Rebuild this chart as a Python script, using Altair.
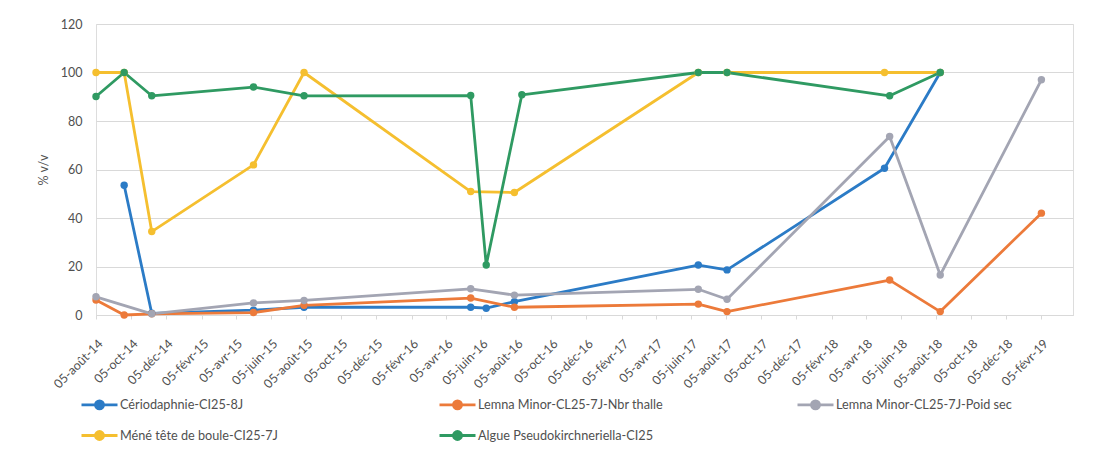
import altair as alt
import pandas as pd

series_names = [
    "Cériodaphnie-CI25-8J",
    "Lemna Minor-CL25-7J-Nbr thalle",
    "Lemna Minor-CL25-7J-Poid sec",
    "Méné tête de boule-CI25-7J",
    "Algue Pseudokirchneriella-CI25",
]
series_colors = ["#2b7bc6", "#ec7a3a", "#a3a5b3", "#f5bf2f", "#2f9a62"]

cerio_dates = ["2014-09-23", "2014-11-10", "2015-05-06", "2015-08-02", "2016-05-18",
               "2016-06-14", "2016-08-02", "2017-06-18", "2017-08-07", "2018-05-08", "2018-08-13"]
cerio_vals = [53.5, 0.7, 2, 3.2, 3.2, 2.8, 5.5, 20.6, 18.6, 60.5, 100]

lemna_nbr_dates = ["2014-08-05", "2014-09-23", "2014-11-10", "2015-05-06", "2015-08-02", "2016-05-18",
                   "2016-08-02", "2017-06-18", "2017-08-07", "2018-05-17", "2018-08-13", "2019-02-05"]
lemna_nbr_vals = [6.2, 0, 0.5, 1, 4, 7, 3.2, 4.5, 1.4, 14.4, 1.4, 42]

lemna_poids_dates = ["2014-08-05", "2014-11-10", "2015-05-06", "2015-08-02", "2016-05-18", "2016-08-02",
                     "2017-06-18", "2017-08-07", "2018-05-17", "2018-08-13", "2019-02-05"]
lemna_poids_vals = [7.5, 0.5, 5, 6, 10.8, 8.2, 10.6, 6.5, 73.6, 16.5, 97]

mene_dates = ["2014-08-05", "2014-09-23", "2014-11-10", "2015-05-06", "2015-08-02", "2016-05-18",
              "2016-08-02", "2017-06-18", "2017-08-07", "2018-05-08", "2018-08-13"]
mene_vals = [100, 100, 34.4, 61.9, 100, 50.9, 50.5, 100, 100, 100, 100]

algue_dates = ["2014-08-05", "2014-09-23", "2014-11-10", "2015-05-06", "2015-08-02", "2016-05-18",
               "2016-06-14", "2016-08-15", "2017-06-18", "2017-08-07", "2018-05-17", "2018-08-13"]
algue_vals = [90.1, 100, 90.4, 94, 90.4, 90.5, 20.6, 90.8, 100, 100, 90.4, 100]

y_ticks = [0, 20, 40, 60, 80, 100, 120]

all_series = [
    (series_names[0], cerio_dates, cerio_vals),
    (series_names[1], lemna_nbr_dates, lemna_nbr_vals),
    (series_names[2], lemna_poids_dates, lemna_poids_vals),
    (series_names[3], mene_dates, mene_vals),
    (series_names[4], algue_dates, algue_vals),
]

rows = []
for i, (name, dates, vals) in enumerate(all_series):
    for d, v in zip(dates, vals):
        rows.append({"serie": name, "date": d + "T00:00:00", "val": v, "ord": i})
df = pd.DataFrame(rows)

# tick values every two months, on the 5th
tick_values = []
y, m = 2014, 8
while (y, m) <= (2019, 2):
    tick_values.append(alt.DateTime(year=y, month=m, date=5))
    m += 2
    if m > 12:
        m -= 12
        y += 1

label_expr = ("'05-' + ['janv','févr','mars','avr','mai','juin','juil','août','sept','oct','nov','déc']"
              "[month(datum.value)] + '-' + timeFormat(datum.value, '%y')")

FONT = "Lato"
TXT = "#505050"

x_enc = alt.X(
    "date:T",
    scale=alt.Scale(domain=[alt.DateTime(year=2014, month=8, date=5),
                            alt.DateTime(year=2019, month=4, date=1)]),
    axis=alt.Axis(values=tick_values, labelExpr=label_expr, labelAngle=-45, title=None,
                  grid=False, domainColor="#d9d9d9", tickColor="#d9d9d9", tickSize=4,
                  labelFont=FONT, labelFontSize=12.5, labelColor=TXT, labelPadding=18,
                  labelOverlap=False, labelBound=False, labelFlush=False),
)
y_enc = alt.Y(
    "val:Q",
    scale=alt.Scale(domain=[0, 120], nice=False),
    axis=alt.Axis(values=y_ticks, title="% v/v", grid=True, gridColor="#d9d9d9", domain=False,
                  ticks=False, labelFont=FONT, labelFontSize=12.5, labelColor=TXT, labelPadding=14,
                  titleFont=FONT, titleFontSize=12.5, titleColor=TXT, titleFontWeight="normal",
                  titlePadding=10),
)

legend_path = "M-1,0H5M2.67,0A0.67,0.67,0,1,1,1.33,0A0.67,0.67,0,1,1,2.67,0Z"
color_enc = alt.Color(
    "serie:N",
    scale=alt.Scale(domain=series_names, range=series_colors),
    sort=series_names,
    legend=alt.Legend(
        title=None, orient="none", legendX=-16, legendY=373, direction="horizontal",
        columns=3, gridAlign="all", columnPadding=128, rowPadding=10,
        symbolType=legend_path, symbolSize=144, symbolStrokeWidth=2.8,
        labelFont=FONT, labelFontSize=12.7, labelColor=TXT, labelOffset=25, labelLimit=400,
    ),
)

base = alt.Chart(df).encode(x=x_enc, y=y_enc, color=color_enc)
lines = base.mark_line(strokeWidth=2.8, strokeJoin="round").encode(order=alt.Order("date:T"))
points = base.mark_point(filled=True, size=55, opacity=1).encode(order=alt.Order("ord:Q"))

chart = (
    alt.layer(lines, points)
    .properties(width=977, height=291,
                padding={"left": 88, "top": 16, "right": 16, "bottom": 140},
                autosize=alt.AutoSizeParams(type="none"))
    .configure_view(stroke=None)
    .configure(font=FONT)
)

chart.save("out.html", embed_options={"renderer": "svg", "actions": False})
